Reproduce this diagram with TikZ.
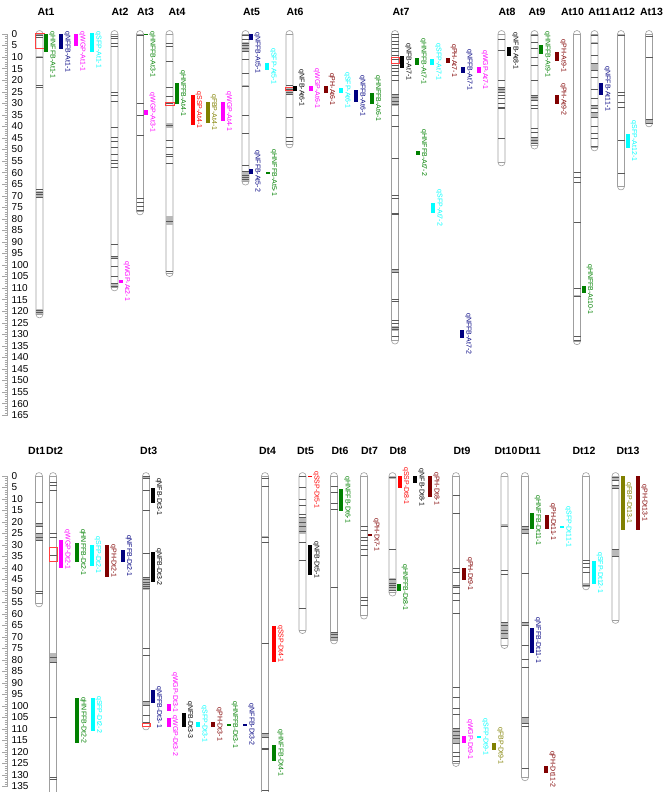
\documentclass[tikz,border=0pt]{standalone}
\usepackage{fontspec}
\setmainfont{Liberation Sans}
\usepackage{tikz}
\usetikzlibrary{positioning,calc}

\definecolor{hnffb}{RGB}{0,128,0}
\definecolor{nffb}{RGB}{0,0,128}
\definecolor{wgp}{RGB}{255,0,255}
\definecolor{sfp}{RGB}{0,255,255}
\definecolor{ssp}{RGB}{255,0,0}
\definecolor{fbp}{RGB}{128,128,0}
\definecolor{ph}{RGB}{128,0,0}
\definecolor{nfb}{RGB}{0,0,0}

\tikzset{
  chrbody/.style={draw=gray!75, fill=white, line width=0.6pt, rounded corners=3.4pt},
  mk/.style={draw=gray!70!black, line width=0.5pt},
  band/.style={fill=gray!55},
  cen/.style={draw=red!75, line width=0.7pt},
  qlab/.style={font=\fontsize{7}{7}\selectfont, rotate=-90, anchor=south, inner sep=0pt},
  chrtitle/.style={font=\fontsize{10.5}{11}\selectfont\bfseries, inner sep=0pt},
  scalelab/.style={font=\fontsize{10}{10}\selectfont, anchor=west, inner sep=0pt},
  tick/.style={draw=gray!70, line width=0.4pt}
}

% chromosome: x, length, title, title x
\newcommand{\chrom}[4]{%
  \draw[chrbody] (#1-3.5,-1.5) rectangle (#1+3.5,#2+1.5);
  \draw[gray!75, line width=0.5pt] (#1-3.5,0) -- (#1+3.5,0) (#1-3.5,#2) -- (#1+3.5,#2);
  \node[chrtitle] (#3) at (#4,\titlecm) {#3};}
% markers and clusters
\newcommand{\mkrs}[2]{\foreach \m in {#2} \draw[mk] (#1-3.5,\m) -- (#1+3.5,\m);}
\newcommand{\clusters}[2]{\foreach \a/\b in {#2} \fill[band] (#1-3.2,\a) rectangle (#1+3.2,\b);}
\newcommand{\centro}[3]{\draw[cen] (#1-4,#2) rectangle (#1+4.5,#3);}
% qtl bar: [label centre] x, from, to, colour, name
\newcommand{\qtl}[6][]{%
  \if\relax\detokenize{#1}\relax\def\qc{(#3+#4)/2}\else\def\qc{#1}\fi
  \fill[#5] (#2,#3) rectangle (#2+4,#4);
  \node[qlab, text=#5] (#6) at (#2+5,{\qc}) {#6};}

\begin{document}
\begin{tikzpicture}[x=1pt,y=-1pt]
\path[use as bounding box] (0,0) rectangle (669,792);
\clip (0,0) rectangle (669,792);

% A sub-genome
\begin{scope}[yshift=-34pt, y=-2.31pt]
\def\titlecm{-9.5}
\draw[tick] (7.5,0) -- (7.5,165);
\foreach \i in {0,...,165} \draw[tick] (4.5,\i) -- (7.5,\i);
\foreach \i in {0,5,...,165} {
  \draw[tick] (2,\i) -- (7.5,\i);
  \node[scalelab] (t\i) at (11.5,\i) {\i};
}

\chrom{39.5}{121.4}{At1}{46}
\clusters{39.5}{9.5/10.5, 68/71, 119/121}
\mkrs{39.5}{0.5,1.5,10,22,23,67,68.5,69.5,70.5,119.5,120.5}
\centro{39.5}{-0.4}{6.1}

\chrom{114.5}{109.7}{At2}{120}
\clusters{114.5}{96/97.5, 108/109.7}
\mkrs{114.5}{1,2,4,5.5,25,26.4,29,40.5,44.5,46.5,49,52,54.5,56,57.5,91,96,97,100.5,105,108,109}

\chrom{140}{76.8}{At3}{145.5}
\mkrs{140}{0.5,30,35,43.7,71,72.7,74.5,76.5}

\chrom{169.5}{103.5}{At4}{177}
\clusters{169.5}{38.5/40.5, 79/82.5}
\mkrs{169.5}{4,5.5,12,23,27,30,39.5,46,49,52,53,56,81,102.6}
\centro{169.5}{29.4}{31}

\chrom{245.5}{63.9}{At5}{251.5}
\clusters{245.5}{3.5/7.8, 22/23, 59.5/63.5}
\mkrs{245.5}{0.5,2.3,4,5,6,7.6,11,17,22.5,35,43,57,59.5,61,62,63}

\chrom{289.5}{47.8}{At6}{295}
\clusters{289.5}{23.5/26.5}
\mkrs{289.5}{22,24,25,26,36,44.5,46.5}
\centro{289.5}{23}{24.6}

\chrom{395}{132.7}{At7}{401}
\clusters{395}{26/31, 102/103, 126.5/128.5}
\mkrs{395}{0.3,1.3,3,4.6,6,7.5,9,11,13.4,14.9,16.3,18,20,26,27.5,29,30.5,35,40,53.7,70,71,77.5,78,102,103,114.7,115.6,124,125,127,128,131}
\centro{395}{10}{12.5}

\chrom{501.5}{55.6}{At8}{507}
\clusters{501.5}{23/25}
\mkrs{501.5}{2.2,7,20,23,24,25,26.4,28,30,31.6,32,45}

\chrom{534.5}{48.3}{At9}{537}
\clusters{534.5}{26.4/28.6, 44.5/47.5}
\mkrs{534.5}{0.4,3.5,6,10,13.4,20,26.4,27.5,28.6,30.7,32,40.7,42.4,44.5,46,47.5}

\chrom{577}{133}{At10}{572.5}
\clusters{577}{112.8/114}
\mkrs{577}{59.7,62,64,81.4,110,113.4,131,132.5}

\chrom{594.5}{49.1}{At11}{599.5}
\clusters{594.5}{3.5/4.5, 12.5/15.6, 30.7/32, 34/36}
\mkrs{594.5}{0.5,4,9,12.5,15.6,18.6,24,27.7,30.7,32,34,36,40,43,45,48.5}

\chrom{621}{66}{At12}{623.5}
\clusters{621}{0/1}
\mkrs{621}{0.4,25,26.4,29.4,31.6,46,60.2}

\chrom{649}{38.7}{At13}{651.5}
\clusters{649}{37/38.5}
\mkrs{649}{1,10,37,38.5}

\qtl[9.1]{44}{0}{8}{hnffb}{qHNFFB-At1-1}
\qtl[7.8]{59}{0}{6.5}{nffb}{qNFFB-At1-1}
\qtl[7.6]{74}{0}{5}{wgp}{qWGP-At1-1}
\qtl[6.9]{90}{-0.5}{8}{sfp}{qSFP-At1-1}
\qtl{118.5}{106.3}{107.7}{wgp}{qWGP-At2-1}
\qtl[8.9]{144}{0}{0.6}{hnffb}{qHNFFB-At3-1}
\qtl{144}{33}{35}{wgp}{qWGP-At3-1}
\qtl{174.5}{21.2}{30.3}{hnffb}{qHNFFB-At4-1}
\qtl{190.5}{26.4}{39.4}{ssp}{qSSP-At4-1}
\qtl{205.5}{29.4}{38.5}{fbp}{qFBP-At4-1}
\qtl{220.5}{29.4}{37.6}{wgp}{qWGP-At4-1}
\qtl[8.2]{249}{0}{2.6}{nffb}{qNFFB-At5-1}
\qtl{265}{12.5}{15.6}{sfp}{qSFP-At5-1}
\qtl{249}{58.4}{60.6}{nffb}{qNFFB-At5-2}
\qtl{265.5}{59.7}{60.7}{hnffb}{qHNFFB-At5-1}
\qtl{293}{22.5}{24.6}{nfb}{qNFB-At6-1}
\qtl{308.5}{22.5}{24.6}{wgp}{qWGP-At6-1}
\qtl{323.5}{22.5}{25.5}{ph}{qPH-At6-1}
\qtl{339}{23.4}{25.5}{sfp}{qSFP-At6-1}
\qtl{354}{24.2}{29.4}{nffb}{qNFFB-At6-1}
\qtl{369.5}{25.5}{30.3}{hnffb}{qHNFFB-At6-1}
\qtl{400}{9.5}{14.7}{nfb}{qNFB-At7-1}
\qtl{415}{10.4}{13.4}{hnffb}{qHNFFB-At7-1}
\qtl{430}{11}{13.4}{sfp}{qSFP-At7-1}
\qtl{445.5}{10.4}{12.6}{ph}{qPH-At7-1}
\qtl{461}{14.3}{16.9}{nffb}{qNFFB-At7-1}
\qtl{476.5}{14.3}{16.9}{wgp}{qWGP-At7-1}
\qtl{415.5}{50.6}{52.4}{hnffb}{qHNFFB-At7-2}
\qtl{431}{73}{77.5}{sfp}{qSFP-At7-2}
\qtl{460}{128}{131.6}{nffb}{qNFFB-At7-2}
\qtl{507}{5.5}{9.5}{nfb}{qNFB-At8-1}
\qtl[8.9]{539}{4.8}{8.7}{hnffb}{qHNFFB-At9-1}
\qtl{555}{7.6}{11.5}{ph}{qPH-At9-1}
\qtl{555}{26.4}{30.3}{ph}{qPH-At9-2}
\qtl{581.5}{109}{112}{hnffb}{qHNFFB-At10-1}
\qtl{599}{21.2}{26.4}{nffb}{qNFFB-At11-1}
\qtl{625.5}{43.3}{49.4}{sfp}{qSFP-At12-1}
\end{scope}

% D sub-genome
\begin{scope}[yshift=-476pt, y=-2.3pt]
\def\titlecm{-10.9}
\draw[tick] (7.5,0) -- (7.5,135);
\foreach \i in {0,...,135} \draw[tick] (4.5,\i) -- (7.5,\i);
\foreach \i in {0,5,...,135} {
  \draw[tick] (2,\i) -- (7.5,\i);
  \node[scalelab] (b\i) at (11.5,\i) {\i};
}

\chrom{39}{55.4}{Dt1}{36.7}
\clusters{39}{20.4/22, 25/28}
\mkrs{39}{11.3,20.4,22,25,26.5,28,50,51}

\chrom{53}{145}{Dt2}{54.5}
\clusters{53}{77/81.5}
\mkrs{53}{2.6,4,6,24.8,26.5,31,34.4,79,80.8,105,131,132}
\centro{53}{31}{37}

\chrom{146}{108.9}{Dt3}{148.7}
\clusters{146}{0/1, 44/49.5, 98/99.5}
\mkrs{146}{0,1,6,14.8,33.5,44,45,46,47,48,49,74.8,78,98,99.5,104,107}
\centro{146}{107.4}{109}

\chrom{265}{145}{Dt4}{267.5}
\clusters{265}{26/27, 111.7/113.5}
\mkrs{265}{1,4.3,26.5,29,72.6,111.7,113.5,118.3,119,136.6}

\chrom{302.5}{67}{Dt5}{305.5}
\clusters{302.5}{18.3/25}
\mkrs{302.5}{0.2,4.8,10,12.6,16.5,17.8,20,22,24,28.7,36.5,57.4}

\chrom{334}{71.5}{Dt6}{340}
\clusters{334}{68/71.5}
\mkrs{334}{4.3,7,11.8,14.5,48.3,68,69,70}

\chrom{364}{60.7}{Dt7}{369.5}
\mkrs{364}{22,23.6,26.5,27.8,30,32,34.3,52.5,54,56}

\chrom{392.5}{50.7}{Dt8}{398}
\clusters{392.5}{0/1.5, 44.5/50}
\mkrs{392.5}{0.5,32,45,46.5,47.5,48.5,49.5}

\chrom{456}{124.8}{Dt9}{462}
\clusters{456}{47.5/48.3, 109.7/116}
\mkrs{456}{8.3,16,40,41.7,47.5,48.3,51,54,59.7,91.7,96,100.8,103.8,109.7,111,112.5,114,116,120,122,124}

\chrom{504.5}{73.5}{Dt10}{506}
\clusters{504.5}{21/22.3, 63.5/70.4}
\mkrs{504.5}{21.7,41,42.7,63.5,65,67,68.5,70.4}

\chrom{525}{131}{Dt11}{529.5}
\clusters{525}{21.7/24.8, 63.5/65, 104.8/107.4}
\mkrs{525}{21.7,23.2,24.8,42.4,63.5,65,73.5,79.6,83,104.8,107.4,109,127}

\chrom{586}{48}{Dt12}{584}
\clusters{586}{46.5/48}
\mkrs{586}{36.5,37.8,39.5,41.7,47.4}

\chrom{615.5}{62.6}{Dt13}{628}
\clusters{615.5}{0/1.7, 4/5.2, 32/35}
\mkrs{615.5}{0.5,1.7,4,5.2,32,35}

\qtl[32]{59}{28}{40}{wgp}{qWGP-Dt2-1}
\qtl{74.5}{29}{37.4}{hnffb}{qHNFFB-Dt2-1}
\qtl{89.5}{30}{39}{sfp}{qSFP-Dt2-1}
\qtl{105}{30}{44}{ph}{qPH-Dt2-1}
\qtl{120.5}{32}{37.4}{nffb}{qNFFB-Dt2-1}
\qtl{90.5}{96.5}{111}{sfp}{qSFP-Dt2-2}
\qtl{75}{96.5}{116}{hnffb}{qHNFFB-Dt2-2}
\qtl[9]{150.5}{5}{11.8}{nfb}{qNFB-Dt3-1}
\qtl{150.5}{33}{46}{nfb}{qNFB-Dt3-2}
\qtl[100.5]{150.5}{93}{98.7}{nffb}{qNFFB-Dt3-1}
\qtl[94]{166.5}{99}{102}{wgp}{qWGP-Dt3-1}
\qtl[113]{166.5}{105}{109}{wgp}{qWGP-Dt3-2}
\qtl{181.5}{103}{109}{nfb}{qNFB-Dt3-3}
\qtl{196}{107}{109}{sfp}{qSFP-Dt3-1}
\qtl{211}{107}{109}{ph}{qPH-Dt3-1}
\qtl{226.5}{107.7}{108.5}{hnffb}{qHNFFB-Dt3-1}
\qtl{243}{107.7}{108.5}{nffb}{qNFFB-Dt3-2}
\qtl{272}{65}{81}{ssp}{qSSP-Dt4-1}
\qtl{272}{117}{124}{hnffb}{qHNFFB-Dt4-1}
\qtl[6.1]{308}{0}{0.6}{ssp}{qSSP-Dt5-1}
\qtl{308}{30}{43}{nfb}{qNFB-Dt5-1}
\qtl{339}{5.7}{15}{hnffb}{qHNFFB-Dt6-1}
\qtl{368}{25}{26}{ph}{qPH-Dt7-1}
\qtl[4.3]{397.5}{0}{5.2}{ssp}{qSSP-Dt8-1}
\qtl[5]{413}{0}{3.2}{nfb}{qNFB-Dt8-1}
\qtl[5.5]{428}{0}{9}{ph}{qPH-Dt8-1}
\qtl{396.5}{47}{50}{hnffb}{qHNFFB-Dt8-1}
\qtl{461.5}{40}{45}{ph}{qPH-Dt9-1}
\qtl{461.5}{113}{116}{wgp}{qWGP-Dt9-1}
\qtl{477}{113}{114}{sfp}{qSFP-Dt9-1}
\qtl{492}{116}{119}{fbp}{qFBP-Dt9-1}
\qtl{529.5}{16}{23}{hnffb}{qHNFFB-Dt11-1}
\qtl{544.5}{17}{23}{ph}{qPH-Dt11-1}
\qtl{560}{21.7}{22.7}{sfp}{qSFP-Dt11-1}
\qtl{529.5}{66}{77}{nffb}{qNFFB-Dt11-1}
\qtl{544}{126}{129}{ph}{qPH-Dt11-2}
\qtl{591.5}{37}{47}{sfp}{qSFP-Dt12-1}
\qtl{620.5}{0}{23.5}{fbp}{qFBP-Dt13-1}
\qtl{636}{0}{23.5}{ph}{qPH-Dt13-1}
\end{scope}
\end{tikzpicture}
\end{document}
